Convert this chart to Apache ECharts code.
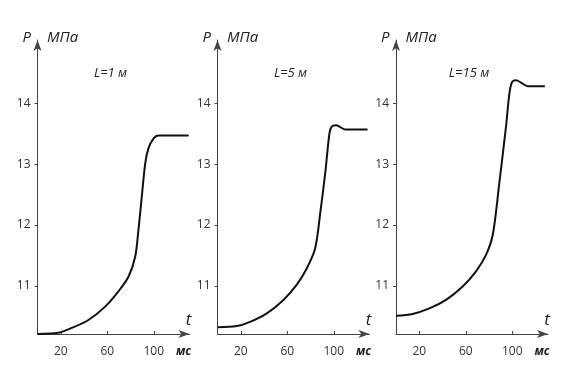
<!DOCTYPE html>
<html>
<head>
<meta charset="utf-8">
<script src="https://cdn.jsdelivr.net/npm/echarts@6/dist/echarts.min.js"></script>
<style>html,body{margin:0;padding:0;background:#fff;}#c{width:564px;height:374px;}</style>
</head>
<body>
<div id="c"></div>
<script>
// ---- data (time in ms, pressure in MPa) ----
const panelLabels = ['L=1 м', 'L=5 м', 'L=15 м'];
const t1 = [0, 18, 29.5, 43.8, 58.2, 69.6, 78.2, 84, 86.8, 89.7, 92.6, 95.4, 99.7, 104, 130];
const p1 = [10.21, 10.23, 10.31, 10.44, 10.66, 10.91, 11.15, 11.48, 11.92, 12.47, 13.01, 13.26, 13.42, 13.47, 13.47];
const t2 = [0, 16.5, 28, 42.4, 56.7, 68.2, 76.8, 84, 88.3, 92.6, 96.3, 98.3, 102, 105.5, 109.8, 129];
const p2 = [10.32, 10.34, 10.41, 10.55, 10.77, 11.02, 11.29, 11.62, 12.19, 12.85, 13.51, 13.62, 13.64, 13.61, 13.57, 13.57];
const t3 = [0, 14.3, 28.7, 43, 57.3, 68.8, 77.4, 83.2, 88.9, 94.6, 97.5, 99.8, 103.2, 107.5, 113.3, 128];
const p3 = [10.51, 10.54, 10.63, 10.77, 10.99, 11.24, 11.51, 11.84, 12.70, 13.62, 14.16, 14.35, 14.38, 14.34, 14.28, 14.28];
const xTicks = [20, 60, 100];
const yTicks = [11, 12, 13, 14];
const yLabelText = 'МПа';
const pLabelText = 'P';
const tLabelText = 't';
const msLabelText = 'мс';

const seriesT = [t1, t2, t3];
const seriesP = [p1, p2, p3];

// ---- layout ----
const axisLeft = [37.5, 217.5, 396];
const gridTop = 40, gridBottom = 40, gridWidth = 152;
const X_MAX = 130.7, Y_MIN = 10.21, Y_MAX = 15.04;
const axisColor = '#444';
const textColor = '#333';

const grids = [], xAxes = [], yAxes = [], series = [], graphics = [];
for (let i = 0; i < 3; i++) {
  grids.push({ left: axisLeft[i], top: gridTop, width: gridWidth, bottom: gridBottom });
  xAxes.push({
    type: 'value', gridIndex: i, min: 0, max: X_MAX,
    axisLine: { show: true, onZero: false, symbol: ['none', 'arrow'], symbolSize: [6, 11],
      lineStyle: { color: axisColor, width: 1 } },
    axisTick: { show: true, inside: true, length: 3, customValues: xTicks, lineStyle: { color: axisColor } },
    axisLabel: { show: true, customValues: xTicks, margin: 12, fontSize: 12, color: textColor,
      fontFamily: 'Open Sans' },
    splitLine: { show: false }
  });
  yAxes.push({
    type: 'value', gridIndex: i, min: Y_MIN, max: Y_MAX,
    axisLine: { show: true, onZero: false, symbol: ['none', 'arrow'], symbolSize: [6, 11],
      lineStyle: { color: axisColor, width: 1 } },
    axisTick: { show: true, inside: false, length: 3, customValues: yTicks, lineStyle: { color: axisColor } },
    axisLabel: { show: true, customValues: yTicks, margin: 7, fontSize: 12, color: textColor,
      fontFamily: 'Open Sans' },
    splitLine: { show: false }
  });
  series.push({
    type: 'line', xAxisIndex: i, yAxisIndex: i,
    data: seriesT[i].map((t, k) => [t, seriesP[i][k]]),
    smooth: 0.3, showSymbol: false, symbol: 'none',
    lineStyle: { color: '#111', width: 2 },
    animation: false
  });
  const a = axisLeft[i];
  const font = 'italic 15px "Open Sans"';
  graphics.push(
    { type: 'text', x: a - 15, y: 38, style: { text: pLabelText, font: font, fill: '#222', align: 'left', verticalAlign: 'middle' } },
    { type: 'text', x: a + 9.5, y: 38, style: { text: yLabelText, font: font, fill: '#222', align: 'left', verticalAlign: 'middle' } },
    { type: 'text', x: a + 73, y: 73, style: { text: panelLabels[i], font: 'italic 13px "Open Sans"', fill: '#222', align: 'center', verticalAlign: 'middle' } },
    { type: 'text', x: a + 151, y: 320, style: { text: tLabelText, font: 'italic 17px "Open Sans"', fill: '#222', align: 'center', verticalAlign: 'middle' } },
    { type: 'text', x: a + 146, y: 352, style: { text: msLabelText, font: 'italic bold 12px "Open Sans"', fill: '#222', align: 'center', verticalAlign: 'middle' } }
  );
}

const chart = echarts.init(document.getElementById('c'), null, { renderer: 'canvas' });
chart.setOption({
  animation: false,
  backgroundColor: '#fff',
  grid: grids, xAxis: xAxes, yAxis: yAxes, series: series,
  graphic: graphics
});
</script>
</body>
</html>
